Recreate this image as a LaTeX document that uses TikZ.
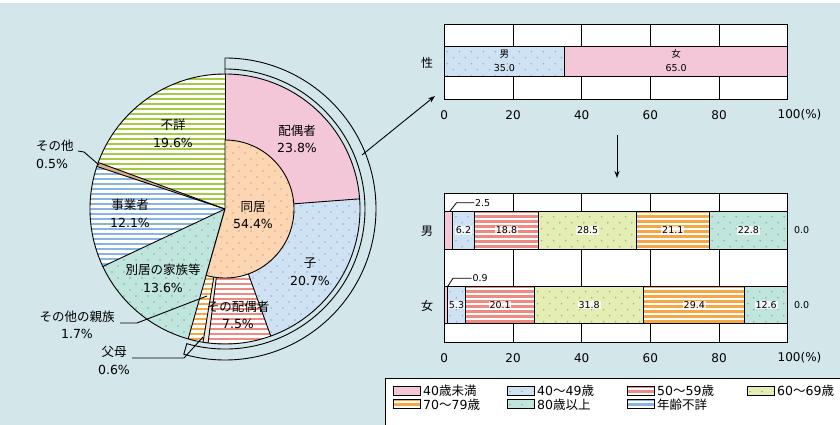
\documentclass[tikz,border=0pt]{standalone}
\usepackage{fontspec}
\setmainfont{DejaVu Sans}
\newfontfamily\jp{Noto Sans CJK JP}
\usetikzlibrary{arrows.meta}
\definecolor{bg}{HTML}{D3E6EA}
\definecolor{cpink}{HTML}{F4C7D8}
\definecolor{cblue}{HTML}{CFE2F3}
\definecolor{cbluedot}{HTML}{8FB0D0}
\definecolor{cred}{HTML}{EE8A82}
\definecolor{cgreenl}{HTML}{E3EDB4}
\definecolor{cgreendot}{HTML}{A3BA5E}
\definecolor{corange}{HTML}{F5A745}
\definecolor{cteal}{HTML}{C0E5DD}
\definecolor{ctealdot}{HTML}{7AB4A8}
\definecolor{cbluestr}{HTML}{88B4E4}
\definecolor{cgreenstr}{HTML}{A5CB45}
\definecolor{cpeach}{HTML}{FCD6B3}
\definecolor{cpeachdot}{HTML}{DDA070}
\definecolor{ctan}{HTML}{D7B088}
\definecolor{cpale}{HTML}{EEE8DD}
% stripes: bg, stripe colour, clip path, xmin, xmax, ymin, ymax
\newcommand\stripefill[7]{%
  \begin{scope}
    \clip #3;
    \fill[#1] (#4,#6) rectangle (#5,#7);
    \pgfmathtruncatemacro\nn{(#7-#6)/5+1}%
    \foreach \k in {0,...,\nn}{\draw[#2,line width=2.8pt] (#4,#6+5*\k) -- (#5,#6+5*\k);}
  \end{scope}}
% dots: bg, dot colour, clip path, xmin, xmax, ymin, ymax
\newcommand\dotfillm[7]{%
  \begin{scope}
    \clip #3;
    \fill[#1] (#4,#6) rectangle (#5,#7);
    \pgfmathtruncatemacro\nr{(#7-#6)/6+1}%
    \pgfmathtruncatemacro\nc{(#5-#4)/12+1}%
    \foreach \j in {0,...,\nr}{%
      \pgfmathsetmacro\off{6*mod(\j,2)-3}%
      \foreach \i in {0,...,\nc}{\fill[#2] (#4+12*\i+\off,#6+6*\j-1) circle[radius=0.85];}}
  \end{scope}}
% category fills on rectangles: x1 y1 x2 y2
\newcommand\cA[4]{\fill[cpink] (#1,#2) rectangle (#3,#4);}
\newcommand\cB[4]{\dotfillm{cblue}{cbluedot}{(#1,#2) rectangle (#3,#4)}{#1}{#3}{#2}{#4}}
\newcommand\cC[4]{\stripefill{white}{cred}{(#1,#2) rectangle (#3,#4)}{#1}{#3}{#2}{#4}}
\newcommand\cD[4]{\dotfillm{cgreenl}{cgreendot}{(#1,#2) rectangle (#3,#4)}{#1}{#3}{#2}{#4}}
\newcommand\cE[4]{\stripefill{white}{corange}{(#1,#2) rectangle (#3,#4)}{#1}{#3}{#2}{#4}}
\newcommand\cF[4]{\dotfillm{cteal}{ctealdot}{(#1,#2) rectangle (#3,#4)}{#1}{#3}{#2}{#4}}
\newcommand\cG[4]{\stripefill{white}{cbluestr}{(#1,#2) rectangle (#3,#4)}{#1}{#3}{#2}{#4}}
\tikzset{
  pl/.style={align=center,font=\fontsize{12.5}{17.5}\selectfont,inner sep=0pt},
  ax/.style={font=\fontsize{12}{14}\selectfont,inner sep=0pt},
  bl/.style={font=\fontsize{9.5}{14}\selectfont,inner sep=0.8pt,align=center},
  bh/.style={bl,fill=white,fill opacity=0.75,text opacity=1},
  rl/.style={font=\fontsize{12}{14}\selectfont\jp,inner sep=0pt},
  lg/.style={font=\fontsize{12.5}{14}\selectfont,inner sep=0pt,anchor=west},
  ln/.style={draw=black,line width=0.9pt},
  lead/.style={draw=black,line width=0.9pt},
}
\begin{document}
\begin{tikzpicture}[x=1pt,y=-1pt]
\useasboundingbox (0,0) rectangle (840,425);
\fill[bg] (0,0) rectangle (840,425);
\fill[white] (0,0) rectangle (840,3.5);

% ---------- pie ----------
\begin{scope}[shift={(225,209)},yscale=-1]
  % bracket band
  \path[ln,fill=bg] (90:135) -- (90:151) arc[start angle=90,end angle=-105.84,radius=151]
     -- (-105.84:140) arc[start angle=-105.84,end angle=90,radius=140] -- cycle;
  % slices
  \fill[cpink] (0,0) -- (90:135) arc[start angle=90,end angle=4.32,radius=135] -- cycle;
  \dotfillm{cblue}{cbluedot}{(0,0) -- (4.32:135) arc[start angle=4.32,end angle=-70.2,radius=135] -- cycle}{-5}{140}{-140}{30}
  \stripefill{white}{cred}{(0,0) -- (-70.2:135) arc[start angle=-70.2,end angle=-97.2,radius=135] -- cycle}{-30}{55}{-140}{0}
  \fill[cpale] (0,0) -- (-97.2:135) arc[start angle=-97.2,end angle=-99.36,radius=135] -- cycle;
  \stripefill{white}{corange}{(0,0) -- (-99.36:135) arc[start angle=-99.36,end angle=-105.84,radius=135] -- cycle}{-45}{5}{-140}{0}
  \dotfillm{cteal}{ctealdot}{(0,0) -- (-105.84:135) arc[start angle=-105.84,end angle=-154.8,radius=135] -- cycle}{-140}{5}{-140}{5}
  \stripefill{white}{cbluestr}{(0,0) -- (-154.8:135) arc[start angle=-154.8,end angle=-198.36,radius=135] -- cycle}{-140}{5}{-70}{50}
  \fill[ctan] (0,0) -- (-198.36:135) arc[start angle=-198.36,end angle=-200.16,radius=135] -- cycle;
  \stripefill{white}{cgreenstr}{(0,0) -- (-200.16:135) arc[start angle=-200.16,end angle=-270,radius=135] -- cycle}{-140}{5}{0}{140}
  % outlines
  \foreach \a in {90,4.32,-70.2,-97.2,-99.36,-105.84,-154.8,-198.36,-200.16}
    \draw[line width=0.9pt] (0,0) -- (\a:135);
  \draw[line width=0.9pt] (0,0) circle[radius=135];
  % 同居
  \dotfillm{cpeach}{cpeachdot}{(0,0) -- (90:69) arc[start angle=90,end angle=-105.84,radius=69] -- cycle}{-25}{75}{-75}{75}
  \draw[line width=0.9pt] (0,0) -- (90:69) arc[start angle=90,end angle=-105.84,radius=69] -- cycle;
\end{scope}

\node[pl] (lfs)  at (173,133.5) {{\jp 不詳}\\19.6\%};
\node[pl] (lhai) at (297,139)   {{\jp 配偶者}\\23.8\%};
\node[pl] (lji)  at (130,213.5) {{\jp 事業者}\\12.1\%};
\node[pl] (ldo)  at (253,215)   {{\jp 同居}\\54.4\%};
\node[pl] (lko)  at (310,271.5) {{\jp 子}\\20.7\%};
\node[pl] (lbe)  at (163,278.5) {{\jp 別居の家族等}\\13.6\%};
\node[pl] (lsh)  at (238,315)   {{\jp その配偶者}\\7.5\%};
\node[pl,align=left,anchor=west] (lso) at (36,154.5) {{\jp その他}\\0.5\%};
\node[pl] (lsr)  at (77,325)    {{\jp その他の親族}\\1.7\%};
\node[pl] (lfu)  at (114,360.5) {{\jp 父母}\\0.6\%};

\coordinate (soa) at (78,151);
\coordinate (sob) at (84,152);
\coordinate (soc) at (99,165);
\draw[lead] (soa) -- (sob) -- (soc);
\coordinate (sra) at (120,323);
\coordinate (srb) at (137,323);
\coordinate (src) at (207,296);
\draw[lead] (sra) -- (srb) -- (src);
\coordinate (fua) at (132,358);
\coordinate (fub) at (184,358);
\coordinate (fuc) at (203,337);
\draw[lead] (fua) -- (fub) -- (fuc);

% arrows
\coordinate (arrS) at (362,155);
\coordinate (arrE) at (435,96);
\draw[line width=0.9pt,-{Stealth[length=7pt,width=5pt]}] (arrS) -- (arrE);
\coordinate (dnS) at (617,135);
\coordinate (dnE) at (617,178);
\draw[line width=0.9pt,-{Stealth[length=7pt,width=5pt]}] (dnS) -- (dnE);

% ---------- top bar chart ----------
\node[rl] (lsei) at (427,63) {性};
\fill[white] (444.3,24) rectangle (787.7,99);
\foreach \x in {513,581.7,650.3,719} \draw[ln] (\x,24) -- (\x,99);
\draw[ln] (444.3,24) rectangle (787.7,99);
\cB{444.3}{46.7}{564.5}{76}
\cA{564.5}{46.7}{787.7}{76}
\draw[ln] (444.3,46.7) rectangle (564.5,76);
\draw[ln] (564.5,46.7) rectangle (787.7,76);
\node[bl] (tm) at (504.4,61) {{\jp 男}\\35.0};
\node[bl] (tf) at (676.1,61) {{\jp 女}\\65.0};
\node[ax] (ta0) at (444.3,115) {0};
\node[ax] (ta20) at (513,115) {20};
\node[ax] (ta40) at (581.7,115) {40};
\node[ax] (ta60) at (650.3,115) {60};
\node[ax] (ta80) at (719,115) {80};
\node[ax,anchor=west] (ta100) at (777.5,115) {100(\%)};

% ---------- bottom bar chart ----------
\node[rl] (lm) at (427,231) {男};
\node[rl] (lf) at (427,306) {女};
\fill[white] (444.3,193.3) rectangle (787.7,342.7);
\foreach \x in {513,581.7,650.3,719} \draw[ln] (\x,193.3) -- (\x,342.7);
\draw[ln] (444.3,193.3) rectangle (787.7,342.7);
% men
\cA{444.3}{211.7}{452.9}{249}
\cB{452.9}{211.7}{474.2}{249}
\cC{474.2}{211.7}{538.7}{249}
\cD{538.7}{211.7}{636.6}{249}
\cE{636.6}{211.7}{709.1}{249}
\cF{709.1}{211.7}{787.7}{249}
\foreach \a/\b in {444.3/452.9,452.9/474.2,474.2/538.7,538.7/636.6,636.6/709.1,709.1/787.7}
  \draw[ln] (\a,211.7) rectangle (\b,249);
\node[bh] (m2) at (463.5,230.3) {6.2};
\node[bh] (m3) at (506.5,230.3) {18.8};
\node[bh] (m4) at (587.7,230.3) {28.5};
\node[bh] (m5) at (672.8,230.3) {21.1};
\node[bh] (m6) at (748.4,230.3) {22.8};
\node[bl] (m7) at (801.7,230.3) {0.0};
\node[bl,anchor=west] (m1) at (474,202.7) {2.5};
\coordinate (m1a) at (449.5,211.7);
\coordinate (m1b) at (456.5,202.7);
\draw[line width=0.8pt] (m1a) -- (m1b) -- (m1.west);
% women
\cA{444.3}{286.7}{447.4}{323.3}
\cB{447.4}{286.7}{465.6}{323.3}
\cC{465.6}{286.7}{534.6}{323.3}
\cD{534.6}{286.7}{643.8}{323.3}
\cE{643.8}{286.7}{744.8}{323.3}
\cF{744.8}{286.7}{787.7}{323.3}
\foreach \a/\b in {444.3/447.4,447.4/465.6,465.6/534.6,534.6/643.8,643.8/744.8,744.8/787.7}
  \draw[ln] (\a,286.7) rectangle (\b,323.3);
\node[bh] (f2) at (456.5,305) {5.3};
\node[bh] (f3) at (500.1,305) {20.1};
\node[bh] (f4) at (589.2,305) {31.8};
\node[bh] (f5) at (694.3,305) {29.4};
\node[bh] (f6) at (766.2,305) {12.6};
\node[bl] (f7) at (801.7,305) {0.0};
\node[bl,anchor=west] (f1) at (471.5,278.3) {0.9};
\coordinate (f1a) at (447.5,286.7);
\coordinate (f1b) at (453,278.3);
\draw[line width=0.8pt] (f1a) -- (f1b) -- (f1.west);
\node[ax] (ba0) at (444.3,358) {0};
\node[ax] (ba20) at (513,358) {20};
\node[ax] (ba40) at (581.7,358) {40};
\node[ax] (ba60) at (650.3,358) {60};
\node[ax] (ba80) at (719,358) {80};
\node[ax,anchor=west] (ba100) at (777.5,358) {100(\%)};

% ---------- legend ----------
\fill[white] (385,378) rectangle (840,425);
\draw[ln] (840,378) -- (385,378) -- (385,425);
\cA{393}{386.5}{420}{395.5} \draw[ln] (393,386.5) rectangle (420,395.5);
\node[lg] (g1) at (423,391) {40{\jp 歳未満}};
\cB{507}{386.5}{534}{395.5} \draw[ln] (507,386.5) rectangle (534,395.5);
\node[lg] (g2) at (537,391) {40{\jp ～}49{\jp 歳}};
\cC{627}{386.5}{654}{395.5} \draw[ln] (627,386.5) rectangle (654,395.5);
\node[lg] (g3) at (657,391) {50{\jp ～}59{\jp 歳}};
\cD{747}{386.5}{774}{395.5} \draw[ln] (747,386.5) rectangle (774,395.5);
\node[lg] (g4) at (777,391) {60{\jp ～}69{\jp 歳}};
\cE{393}{399.8}{420}{408.8} \draw[ln] (393,399.8) rectangle (420,408.8);
\node[lg] (g5) at (423,404.3) {70{\jp ～}79{\jp 歳}};
\cF{507}{399.8}{534}{408.8} \draw[ln] (507,399.8) rectangle (534,408.8);
\node[lg] (g6) at (537,404.3) {80{\jp 歳以上}};
\cG{627}{399.8}{654}{408.8} \draw[ln] (627,399.8) rectangle (654,408.8);
\node[lg] (g7) at (657,404.3) {{\jp 年齢不詳}};
\end{tikzpicture}
\end{document}
